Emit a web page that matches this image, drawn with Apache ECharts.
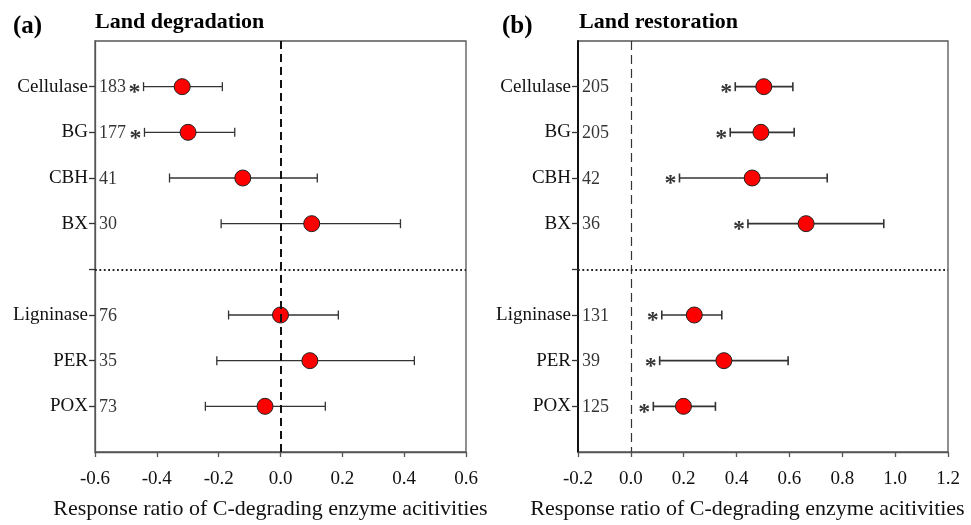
<!DOCTYPE html>
<html>
<head>
<meta charset="utf-8">
<script src="https://cdn.jsdelivr.net/npm/echarts@6/dist/echarts.min.js"></script>
<style>
  html, body { margin: 0; padding: 0; background: #fff; }
  #chart { width: 971px; height: 525px; }
</style>
</head>
<body>
<div id="chart"></div>
<script>
// Enzyme groups: hydrolases (first four) and oxidases (last three)
const enzymes = ['Cellulase', 'BG', 'CBH', 'BX', 'Ligninase', 'PER', 'POX'];
const hydrolaseCount = 4;

// (a) Land degradation: mean response ratio with 95% CI, sample size, significance
const degMean = [-0.318, -0.299, -0.122, 0.101, 0.000, 0.095, -0.050];
const degLow  = [-0.443, -0.440, -0.359, -0.192, -0.168, -0.206, -0.243];
const degHigh = [-0.188, -0.148, 0.119, 0.388, 0.187, 0.433, 0.145];
const degN    = [183, 177, 41, 30, 76, 35, 73];
const degSig  = [true, true, false, false, false, false, false];

// (b) Land restoration
const resMean = [0.503, 0.492, 0.459, 0.663, 0.240, 0.352, 0.199];
const resLow  = [0.395, 0.376, 0.184, 0.443, 0.117, 0.109, 0.085];
const resHigh = [0.613, 0.618, 0.743, 0.957, 0.344, 0.595, 0.320];
const resN    = [205, 205, 42, 36, 131, 39, 125];
const resSig  = [true, true, true, true, true, true, true];

// x-axis ranges
const degRange = [-0.6, 0.6];
const resRange = [-0.2, 1.2];
const xStep = 0.2;

const FONT = 'Liberation Serif';
const axisName = 'Response ratio of C-degrading enzyme acitivities';

// row on the y scale for each enzyme; one empty row separates the two groups
const rowOf = i => i + 1 + (i >= hydrolaseCount ? 1 : 0);
const separatorRow = hydrolaseCount + 1;
const rowCount = enzymes.length + 1;
const rowLabel = {};
enzymes.forEach((e, i) => { rowLabel[rowOf(i)] = e; });
const tickRows = [];
for (let r = 1; r <= rowCount; r++) tickRows.push(r);
const labelRows = enzymes.map((e, i) => rowOf(i));

function errorBarSeries(p, low, high, color, width) {
  return {
    type: 'custom',
    xAxisIndex: p, yAxisIndex: p,
    z: 2,
    silent: true,
    data: low.map((lo, i) => [lo, high[i], rowOf(i)]),
    encode: { x: [0, 1], y: 2 },
    renderItem: function (params, api) {
      const a = api.coord([api.value(0), api.value(2)]);
      const b = api.coord([api.value(1), api.value(2)]);
      const cap = 4.5;
      const style = { stroke: color, lineWidth: width, fill: null };
      return {
        type: 'group',
        children: [
          { type: 'line', shape: { x1: a[0], y1: a[1], x2: b[0], y2: b[1] }, style },
          { type: 'line', shape: { x1: a[0], y1: a[1] - cap, x2: a[0], y2: a[1] + cap }, style },
          { type: 'line', shape: { x1: b[0], y1: b[1] - cap, x2: b[0], y2: b[1] + cap }, style }
        ]
      };
    }
  };
}

function panelSeries(p, mean, low, high, n, sig, range, zeroStyle, barWidth) {
  return [
    errorBarSeries(p, low, high, '#333', barWidth),
    {
      type: 'scatter',
      xAxisIndex: p, yAxisIndex: p,
      z: 4,
      symbol: 'circle',
      symbolSize: 16,
      itemStyle: { color: '#ff0000', borderColor: '#222', borderWidth: 1, opacity: 1 },
      data: mean.map((m, i) => [m, rowOf(i)]),
      markLine: {
        silent: true,
        symbol: 'none',
        label: { show: false },
        animation: false,
        data: [
          { xAxis: 0, lineStyle: zeroStyle },
          { yAxis: separatorRow, lineStyle: { color: '#222', width: 1.8, type: [1.8, 2.6] } }
        ]
      }
    },
    {
      type: 'scatter',
      xAxisIndex: p, yAxisIndex: p,
      z: 5,
      symbolSize: 0,
      silent: true,
      data: n.map((v, i) => [range[0], rowOf(i), v]),
      label: {
        show: true, position: 'right', distance: 4,
        offset: [0, 1],
        formatter: d => String(d.value[2]),
        fontFamily: FONT, fontSize: 18, color: '#000'
      }
    },
    {
      type: 'scatter',
      xAxisIndex: p, yAxisIndex: p,
      z: 5,
      symbolSize: 0,
      silent: true,
      data: low.map((lo, i) => sig[i] ? [lo, rowOf(i)] : null).filter(d => d),
      label: {
        show: true, position: 'left', distance: 3,
        offset: [0, 6],
        formatter: '*',
        fontFamily: FONT, fontSize: 24, fontWeight: 'bold', color: '#000'
      }
    }
  ];
}

function xAxis(p, range, shift) {
  return {
    type: 'value',
    gridIndex: p,
    min: range[0], max: range[1], interval: xStep,
    position: 'bottom',
    name: axisName,
    nameLocation: 'middle',
    nameGap: 46,
    nameTextStyle: { fontFamily: FONT, fontSize: 22, color: '#111', padding: [0, shift, 0, 0] },
    axisLine: { show: true, onZero: false, lineStyle: { color: '#555', width: 1.3 } },
    axisTick: { show: true, inside: false, length: 5, lineStyle: { color: '#555', width: 1.3 } },
    axisLabel: {
      margin: 18, fontFamily: FONT, fontSize: 19, color: '#111',
      formatter: v => v.toFixed(1)
    },
    splitLine: { show: false }
  };
}

function yAxis(p, lineColor, lineWidth) {
  return {
    type: 'value',
    gridIndex: p,
    min: 0, max: rowCount + 1, interval: 1,
    inverse: true,
    position: 'left',
    axisLine: { show: true, onZero: false, lineStyle: { color: lineColor, width: lineWidth } },
    axisTick: { show: true, inside: false, length: 6, customValues: tickRows, lineStyle: { color: '#333', width: 1.3 } },
    axisLabel: {
      customValues: labelRows, margin: 7,
      fontFamily: FONT, fontSize: 19, color: '#111',
      formatter: v => rowLabel[v] || ''
    },
    splitLine: { show: false }
  };
}

const chart = echarts.init(document.getElementById('chart'), null, { renderer: 'canvas' });
chart.setOption({
  animation: false,
  backgroundColor: '#fff',
  grid: [
    { left: 95, right: 505, top: 41, bottom: 69, show: true, borderColor: '#555', borderWidth: 1.3, backgroundColor: 'transparent' },
    { left: 578, right: 23, top: 41, bottom: 69, show: true, borderColor: '#555', borderWidth: 1.3, backgroundColor: 'transparent' }
  ],
  graphic: [
    { type: 'text', left: 13, top: 14, style: { text: '(a)', font: 'bold 25px "Liberation Serif"', fill: '#000' } },
    { type: 'text', left: 95, top: 11, style: { text: 'Land degradation', font: 'bold 22px "Liberation Serif"', fill: '#000' } },
    { type: 'text', left: 502, top: 14, style: { text: '(b)', font: 'bold 25px "Liberation Serif"', fill: '#000' } },
    { type: 'text', left: 579, top: 11, style: { text: 'Land restoration', font: 'bold 22px "Liberation Serif"', fill: '#000' } }
  ],
  xAxis: [xAxis(0, degRange, 20), xAxis(1, resRange, 31)],
  yAxis: [yAxis(0, '#555', 1.3), yAxis(1, '#111', 2)],
  series: [
    ...panelSeries(0, degMean, degLow, degHigh, degN, degSig, degRange,
      { color: '#111', width: 2, type: [8, 5] }, 1.3),
    ...panelSeries(1, resMean, resLow, resHigh, resN, resSig, resRange,
      { color: '#333', width: 1.2, type: [9, 5] }, 1.6)
  ]
});
</script>
</body>
</html>
